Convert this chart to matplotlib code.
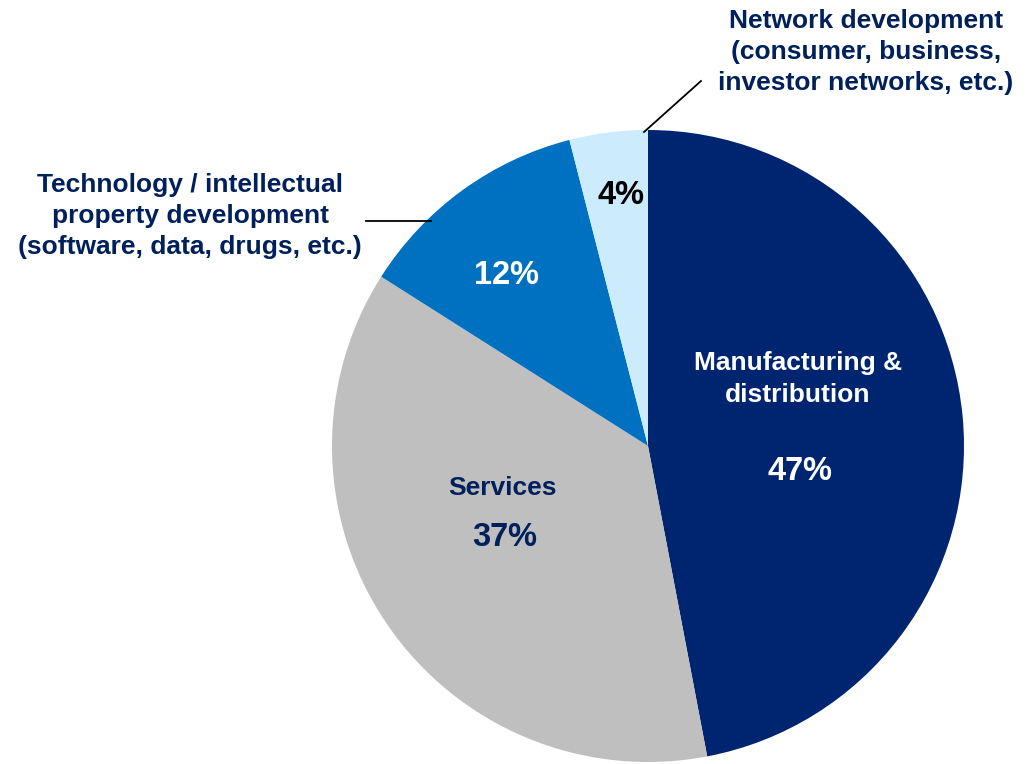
import matplotlib.pyplot as plt

# share of activity by type
segments = ["Manufacturing &\ndistribution", "Services",
            "Technology / intellectual\nproperty development\n(software, data, drugs, etc.)",
            "Network development\n(consumer, business,\ninvestor networks, etc.)"]
shares = [47, 37, 12, 4]
colors = ["#002570", "#BFBFBF", "#0070C0", "#CCEBFC"]

navy = "#00205B"
plt.rcParams["font.family"] = ["Liberation Sans", "DejaVu Sans"]

W, H = 1031, 764
cx, cy, r = 648, 446, 316

fig = plt.figure(figsize=(W / 100, H / 100), dpi=100)
ax = fig.add_axes([(cx - r) / W, (H - cy - r) / H, 2 * r / W, 2 * r / H])
ax.pie(shares, colors=colors, startangle=90, counterclock=False, radius=1,
       wedgeprops=dict(linewidth=0))
ax.set_xlim(-1, 1)
ax.set_ylim(-1, 1)
ax.set_aspect("equal")
ax.axis("off")


def d(px, py):
    # pixel position -> data coords of the pie axes
    return (px - cx) / r, (cy - py) / r


kw = dict(ha="center", va="center", fontweight="bold", clip_on=False)

# labels inside the slices
ax.text(*d(798, 379), segments[0], color="white", fontsize=19, linespacing=1.37, **kw)
ax.text(*d(800, 472), f"{shares[0]}%", color="white", fontsize=23.5, **kw)
ax.text(*d(502, 488), segments[1], color=navy, fontsize=19, **kw)
ax.text(*d(505, 538), f"{shares[1]}%", color=navy, fontsize=23.5, **kw)
ax.text(*d(506, 276), f"{shares[2]}%", color="white", fontsize=23.5, **kw)
ax.text(*d(621, 196), f"{shares[3]}%", color="black", fontsize=23.5, **kw)

# outside labels with leader lines
ax.text(*d(190, 216), segments[2], color=navy, fontsize=19, linespacing=1.37, **kw)
ax.plot(*zip(d(366, 221), d(431, 221)), color="black", lw=1.3, clip_on=False)
ax.text(*d(866, 52), segments[3], color=navy, fontsize=19, linespacing=1.37, **kw)
ax.plot(*zip(d(644, 132), d(701, 81)), color="black", lw=1.3, clip_on=False)

fig.savefig("out.png", dpi=100)
